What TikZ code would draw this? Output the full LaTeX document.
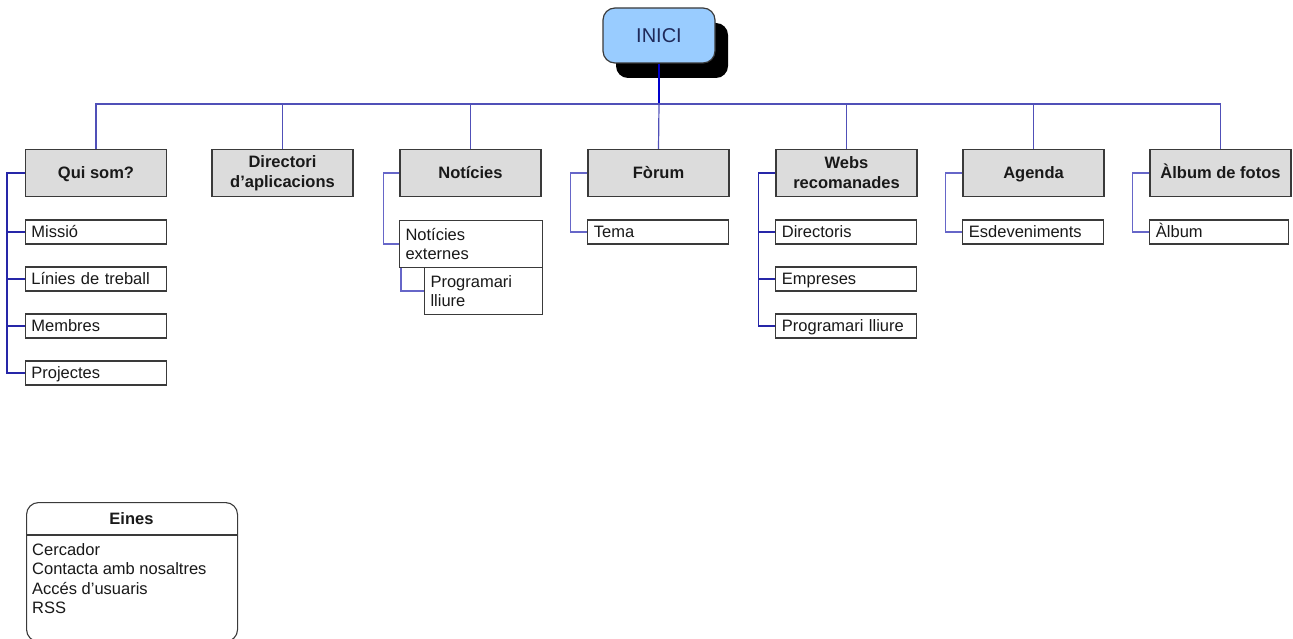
\documentclass[tikz,border=0pt]{standalone}
\usepackage{fontspec}
\setmainfont{Liberation Sans}
\usetikzlibrary{shadows}
\definecolor{iniciblue}{HTML}{99CCFF}
\definecolor{inicitext}{HTML}{1F2A5A}
\definecolor{topgray}{HTML}{DCDCDC}
\definecolor{boxline}{HTML}{3A3A3A}
\definecolor{busblue}{HTML}{5050B8}
\definecolor{darkconn}{HTML}{2626A8}
\definecolor{lightconn}{HTML}{6666C8}
\definecolor{inicidrop}{HTML}{0000CC}
\begin{document}
\begin{tikzpicture}[x=1pt,y=-1pt,
  every node/.style={text=black!90},
  oneline/.style={text height=11.8pt,text depth=0pt},
  inicibox/.style={draw=boxline,line width=1.2pt,fill=iniciblue,rounded corners=12pt,
    minimum width=112pt,minimum height=55pt,inner sep=0pt,text=inicitext,
    font=\fontsize{20}{24}\selectfont,text height=14.3pt,text depth=0pt,
    drop shadow={shadow xshift=13pt,shadow yshift=-15pt,fill=black,opacity=1}},
  topbox/.style={draw=boxline,line width=1.3pt,fill=topgray,minimum width=141pt,
    minimum height=47pt,inner sep=0pt,align=center,
    font=\fontsize{16.5}{20}\selectfont\bfseries},
  subbox/.style={draw=boxline,line width=1.1pt,fill=white,minimum width=141pt,
    minimum height=24pt,inner xsep=6pt,inner ysep=0pt,text width=129pt,align=left,
    font=\fontsize{16.5}{19}\selectfont},
  tallbox/.style={subbox,minimum height=47pt},
  busline/.style={busblue,line width=1.2pt},
  connd/.style={darkconn,line width=1.5pt},
  connl/.style={lightconn,line width=1.2pt},
  einesbox/.style={draw=boxline,line width=1.1pt,rounded corners=12pt,fill=white,
    minimum width=211pt,minimum height=139pt,inner sep=0pt},
]
\useasboundingbox (0,0) rectangle (1293,639);

% root
\node[inicibox] (inici) at (659,35.5) {INICI};
\coordinate (bus) at (659,104);

% top level
\node[topbox,oneline] (qui)    at (96,173)   {Qui som?};
\node[topbox] (dir)    at (282.5,173) {Directori\\d'aplicacions};
\node[topbox,oneline] (not)    at (470.5,173) {Notícies};
\node[topbox,oneline] (forum)  at (658.5,173) {Fòrum};
\node[topbox] (webs)   at (846.5,173) {Webs\\recomanades};
\node[topbox,oneline] (agenda) at (1033.5,173) {Agenda};
\node[topbox,oneline] (album)  at (1220.5,173) {Àlbum de fotos};

% bus
\draw[inicidrop,line width=2pt] (inici.south) -- (bus);
\draw[busline] (qui.north) -- (qui.north |- bus) -- (album.north |- bus) -- (album.north);
\draw[busline] (dir.north) -- (dir.north |- bus);
\draw[busline] (not.north) -- (not.north |- bus);
\draw[busline] (bus) -- (forum.north);
\draw[busline] (webs.north) -- (webs.north |- bus);
\draw[busline] (agenda.north) -- (agenda.north |- bus);

% Qui som children
\node[subbox,oneline,anchor=west] (q1) at (qui.west |- 0,232) {Missió};
\node[subbox,oneline,anchor=west] (q2) at (qui.west |- 0,279) {Línies de treball};
\node[subbox,oneline,anchor=west] (q3) at (qui.west |- 0,326) {Membres};
\node[subbox,oneline,anchor=west] (q4) at (qui.west |- 0,373) {Projectes};
\draw[connd] (qui.west) -- ++(-18,0) |- (q4.west);
\foreach \c in {q1,q2,q3} \draw[connd] (qui.west) ++(-18,0) |- (\c.west);

% Noticies children
\node[tallbox,anchor=north west,minimum width=143pt,text width=131pt] (nx) at (399,220) {Notícies\\externes};
\node[tallbox,anchor=north west,minimum width=118pt,text width=106pt] (prog) at (424,267) {Programari\\lliure};
\draw[connl] (not.west) -- ++(-16,0) |- (nx.west);
\draw[connl] (nx.south west) ++(2,0) |- (prog.west);

% Forum children
\node[subbox,oneline,anchor=west] (f1) at (forum.west |- 0,232) {Tema};
\draw[connl] (forum.west) -- ++(-17,0) |- (f1.west);

% Webs children
\node[subbox,oneline,anchor=west] (w1) at (webs.west |- 0,232) {Directoris};
\node[subbox,oneline,anchor=west] (w2) at (webs.west |- 0,279) {Empreses};
\node[subbox,oneline,anchor=west] (w3) at (webs.west |- 0,326) {Programari lliure};
\draw[connd] (webs.west) -- ++(-17,0) |- (w3.west);
\foreach \c in {w1,w2} \draw[connd] (webs.west) ++(-17,0) |- (\c.west);

% Agenda children
\node[subbox,oneline,anchor=west] (a1) at (agenda.west |- 0,232) {Esdeveniments};
\draw[connl] (agenda.west) -- ++(-17,0) |- (a1.west);

% Album children
\node[subbox,oneline,anchor=west,minimum width=139pt,text width=127pt] (al1) at (album.west |- 0,232) {Àlbum};
\draw[connl] (album.west) -- ++(-17,0) |- (al1.west);

% Eines
\node[einesbox,anchor=north west] (eines) at (26,502) {};
\node[font=\fontsize{16.5}{20}\selectfont\bfseries,inner sep=0pt,oneline] (einest) at (131.5,519) {Eines};
\coordinate (hdr) at (0,535);
\draw[boxline,line width=1.1pt] (eines.west |- hdr) -- (eines.east |- hdr);
\node[anchor=north west,align=left,inner sep=0pt,font=\fontsize{16.5}{19.6}\selectfont] (items) at (32,543)
  {Cercador\\Contacta amb nosaltres\\Accés d'usuaris\\RSS};
\end{tikzpicture}
\end{document}
